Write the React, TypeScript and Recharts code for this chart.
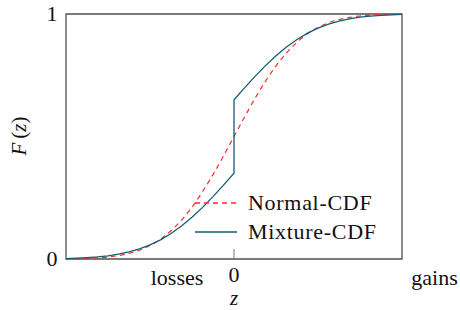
import React from "react";
import { LineChart, Line, XAxis, YAxis, ReferenceArea } from "recharts";

const zGrid = [
  -3.2, -3.0, -2.8, -2.6, -2.4, -2.2, -2.0, -1.8, -1.6, -1.4, -1.2, -1.0, -0.8,
  -0.6, -0.4, -0.2, 0, 0.2, 0.4, 0.6, 0.8, 1.0, 1.2, 1.4, 1.6, 1.8, 2.0, 2.2,
  2.4, 2.6, 2.8, 3.0, 3.2,
];

const normalCdf = [
  0.0007, 0.0013, 0.0026, 0.0047, 0.0082, 0.0139, 0.0228, 0.0359, 0.0548,
  0.0808, 0.1151, 0.1587, 0.2119, 0.2743, 0.3446, 0.4207, 0.5, 0.5793, 0.6554,
  0.7257, 0.7881, 0.8413, 0.8849, 0.9192, 0.9452, 0.9641, 0.9772, 0.9861,
  0.9918, 0.9953, 0.9974, 0.9987, 0.9993,
];

// mixture has a jump at z = 0, so 0 appears twice
const mixtureZ = [
  -3.2, -3.0, -2.8, -2.6, -2.4, -2.2, -2.0, -1.8, -1.6, -1.4, -1.2, -1.0, -0.8,
  -0.6, -0.4, -0.2, 0, 0, 0.2, 0.4, 0.6, 0.8, 1.0, 1.2, 1.4, 1.6, 1.8, 2.0, 2.2,
  2.4, 2.6, 2.8, 3.0, 3.2,
];

const mixtureCdf = [
  0.0019, 0.0032, 0.0053, 0.0083, 0.0128, 0.0197, 0.0286, 0.0412, 0.0575,
  0.0783, 0.104, 0.1345, 0.1702, 0.2106, 0.2547, 0.3016, 0.35, 0.65, 0.6984,
  0.7453, 0.7894, 0.8298, 0.8655, 0.896, 0.9217, 0.9425, 0.9588, 0.9714,
  0.9803, 0.9872, 0.9917, 0.9947, 0.9968, 0.9981,
];

const xDomain = [-3.2, 3.2];
const xTickValues = [-1.085, 0, 3.82];
const xTickLabels = ["losses", "0", "gains"];
const yTickValues = [0, 1];
const yTickLabels = ["0", "1"];

const normalData = zGrid.map((z, i) => ({ z, F: normalCdf[i] }));
const mixtureData = mixtureZ.map((z, i) => ({ z, F: mixtureCdf[i] }));

const FONT = "'Liberation Serif', serif";
const FS = 22;
const RED = "#ff2a2a";
const TEAL = "#135d74";
const FRAME = "#505050";

const BottomTick = (props: any) => {
  const { x, y, payload } = props;
  const i = xTickValues.indexOf(payload.value);
  const isZero = payload.value === 0;
  return (
    <g>
      {isZero && (
        <line x1={x} x2={x} y1={y} y2={y - 10} stroke="#777" strokeWidth={1} />
      )}
      <text
        x={x}
        y={y + (isZero ? 23 : 26)}
        textAnchor="middle"
        fontFamily={FONT}
        fontSize={FS}
        fill="#111"
      >
        {xTickLabels[i]}
      </text>
    </g>
  );
};

const TopTick = (props: any) => {
  const { x, y } = props;
  return <line x1={x} x2={x} y1={y} y2={y + 10} stroke="#777" strokeWidth={1} />;
};

const LeftTick = (props: any) => {
  const { x, y, payload } = props;
  const i = yTickValues.indexOf(payload.value);
  return (
    <text
      x={x - 14}
      y={y + 7}
      textAnchor="middle"
      fontFamily={FONT}
      fontSize={FS}
      fill="#111"
    >
      {yTickLabels[i]}
    </text>
  );
};

const YLabel = () => (
  <text
    x={26}
    y={136}
    transform="rotate(-90 26 136)"
    textAnchor="middle"
    fontFamily={FONT}
    fontSize={21}
    fill="#111"
  >
    <tspan fontStyle="italic">F</tspan>
    <tspan dx={4}>(</tspan>
    <tspan fontStyle="italic">z</tspan>
    <tspan>)</tspan>
  </text>
);

const XLabel = () => (
  <text
    x={234}
    y={305}
    textAnchor="middle"
    fontFamily={FONT}
    fontStyle="italic"
    fontSize={21}
    fill="#111"
  >
    z
  </text>
);

const legendItems = [
  { name: "Normal-CDF", color: RED, dash: "5 4" },
  { name: "Mixture-CDF", color: TEAL, dash: undefined },
];

const LegendBox = () => (
  <svg
    width={210}
    height={56}
    style={{ position: "absolute", left: 195, top: 191, display: "block" }}
  >
    {legendItems.map((it, i) => (
      <g key={it.name}>
        <line
          x1={0}
          x2={42}
          y1={12 + i * 29}
          y2={12 + i * 29}
          stroke={it.color}
          strokeWidth={1.3}
          strokeDasharray={it.dash}
        />
        <text
          x={53}
          y={19 + i * 29}
          fontFamily={FONT}
          fontSize={FS}
          letterSpacing={0.7}
          fill="#111"
        >
          {it.name}
        </text>
      </g>
    ))}
  </svg>
);

export default function App() {
  return (
    <div style={{ position: "absolute", left: 0, top: 0, width: 460, height: 310 }}>
      <LineChart
        width={460}
        height={310}
        margin={{ top: 14, right: 58, bottom: 21, left: 36 }}
      >
        <XAxis
          dataKey="z"
          type="number"
          domain={xDomain}
          ticks={xTickValues}
          interval={0}
          allowDataOverflow
          axisLine={false}
          tickLine={false}
          tickSize={0}
          tickMargin={0}
          height={30}
          tick={<BottomTick />}
          label={<XLabel />}
        />
        <XAxis
          xAxisId="top"
          orientation="top"
          type="number"
          domain={xDomain}
          ticks={[0]}
          axisLine={false}
          tickLine={false}
          tickSize={0}
          tickMargin={0}
          height={0}
          tick={<TopTick />}
        />
        <YAxis
          type="number"
          domain={[0, 1]}
          ticks={yTickValues}
          axisLine={false}
          tickLine={false}
          tickSize={0}
          tickMargin={0}
          width={30}
          tick={<LeftTick />}
          label={<YLabel />}
        />
        <Line
          data={normalData}
          dataKey="F"
          name="Normal-CDF"
          type="monotone"
          stroke={RED}
          strokeWidth={1.2}
          strokeDasharray="5 4"
          dot={false}
          isAnimationActive={false}
        />
        <Line
          data={mixtureData}
          dataKey="F"
          name="Mixture-CDF"
          type="linear"
          stroke={TEAL}
          strokeWidth={1.3}
          dot={false}
          isAnimationActive={false}
        />
        <ReferenceArea
          x1={xDomain[0]}
          x2={xDomain[1]}
          y1={0}
          y2={1}
          fill="none"
          fillOpacity={0}
          stroke={FRAME}
          strokeWidth={1.3}
          ifOverflow="visible"
        />
      </LineChart>
      <LegendBox />
    </div>
  );
}
